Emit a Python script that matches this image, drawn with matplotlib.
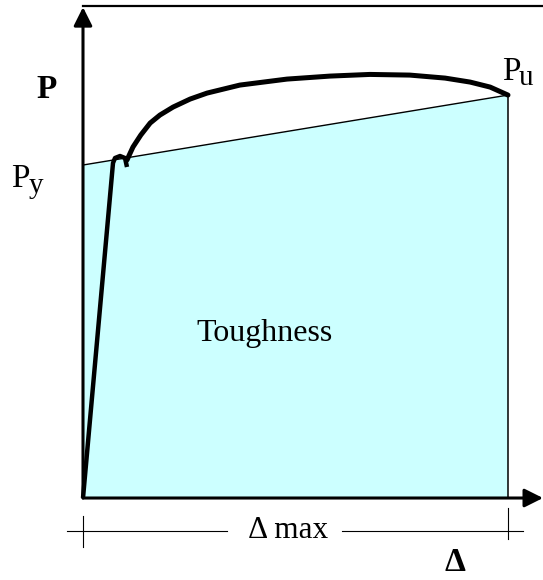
import matplotlib
matplotlib.use("Agg")
from matplotlib import pyplot as plt

# displacement in units of delta_max, load in units of P_y
elastic_d = [0.0, 0.0706, 0.0753, 0.0871, 0.0988, 0.1035]
elastic_p = [0.0, 1.006, 1.021, 1.027, 1.021, 0.994]

harden_d = [0.1035, 0.1176, 0.136, 0.158, 0.181, 0.212, 0.252, 0.292, 0.369,
            0.480, 0.581, 0.675, 0.769, 0.852, 0.911, 0.958, 0.979, 1.0]
harden_p = [1.015, 1.054, 1.090, 1.126, 1.150, 1.174, 1.198, 1.216, 1.240,
            1.258, 1.267, 1.272, 1.270, 1.261, 1.249, 1.234, 1.222, 1.210]

p_y = 1.0
p_u = 1.21
d_max = 1.0

plt.rcParams['font.family'] = ['Liberation Serif', 'DejaVu Serif']

fig = plt.figure(figsize=(5.43, 5.80), dpi=100)
ax = fig.add_axes([0, 0, 1, 1])
ax.set_xlim(-0.1953, 1.0824)
ax.set_ylim(-0.2462, 1.4955)
ax.axis('off')

# toughness area
ax.fill([0, 0, d_max, d_max], [0, p_y, p_u, 0], color='#CCFFFF', lw=0, zorder=1)
ax.plot([0, d_max], [p_y, p_u], color='k', lw=1.0, zorder=2)
ax.plot([d_max, d_max], [0, p_u], color='k', lw=1.1, zorder=2)

# load-displacement curve
ax.plot(elastic_d, elastic_p, color='k', lw=3.2, solid_joinstyle='round',
        solid_capstyle='butt', zorder=3)
ax.plot(harden_d, harden_p, color='k', lw=3.6, solid_joinstyle='round',
        solid_capstyle='round', zorder=3)

# axes with arrows
ax.annotate('', xy=(1.0824, 0), xytext=(0, 0),
            arrowprops=dict(arrowstyle='-|>', lw=2.2, color='k',
                            mutation_scale=28, shrinkA=0, shrinkB=0), zorder=4)
ax.annotate('', xy=(0, 1.474), xytext=(0, 0),
            arrowprops=dict(arrowstyle='-|>', lw=2.2, color='k',
                            mutation_scale=28, shrinkA=0, shrinkB=0), zorder=4)
ax.plot([0, 1.0824], [1.477, 1.477], color='k', lw=1.6)

# dimension line for delta max
ax.plot([-0.038, 0.339], [-0.099, -0.099], color='k', lw=0.8)
ax.plot([0.609, 1.035], [-0.099, -0.099], color='k', lw=0.8)
ax.plot([0, 0], [-0.054, -0.147], color='k', lw=0.8)
ax.plot([d_max, d_max], [-0.030, -0.123], color='k', lw=0.8)

ax.text(0.482, -0.099, '\u0394 max', fontsize=22.5, ha='center', va='center')
ax.text(0.428, 0.495, 'Toughness', fontsize=23, ha='center', va='center')
ax.text(-0.085, 1.228, 'P', fontsize=24, fontweight='bold', ha='center', va='center')
ax.text(-0.169, 0.934, 'P', fontsize=24, ha='left', va='baseline')
ax.text(-0.129, 0.916, 'y', fontsize=21, ha='left', va='baseline')
ax.text(0.986, 1.255, 'P', fontsize=24, ha='left', va='baseline')
ax.text(1.026, 1.240, 'u', fontsize=21, ha='left', va='baseline')
ax.text(0.875, -0.195, '\u0394', fontsize=24, fontweight='bold', ha='center', va='center')

plt.savefig('out.png', dpi=100)
